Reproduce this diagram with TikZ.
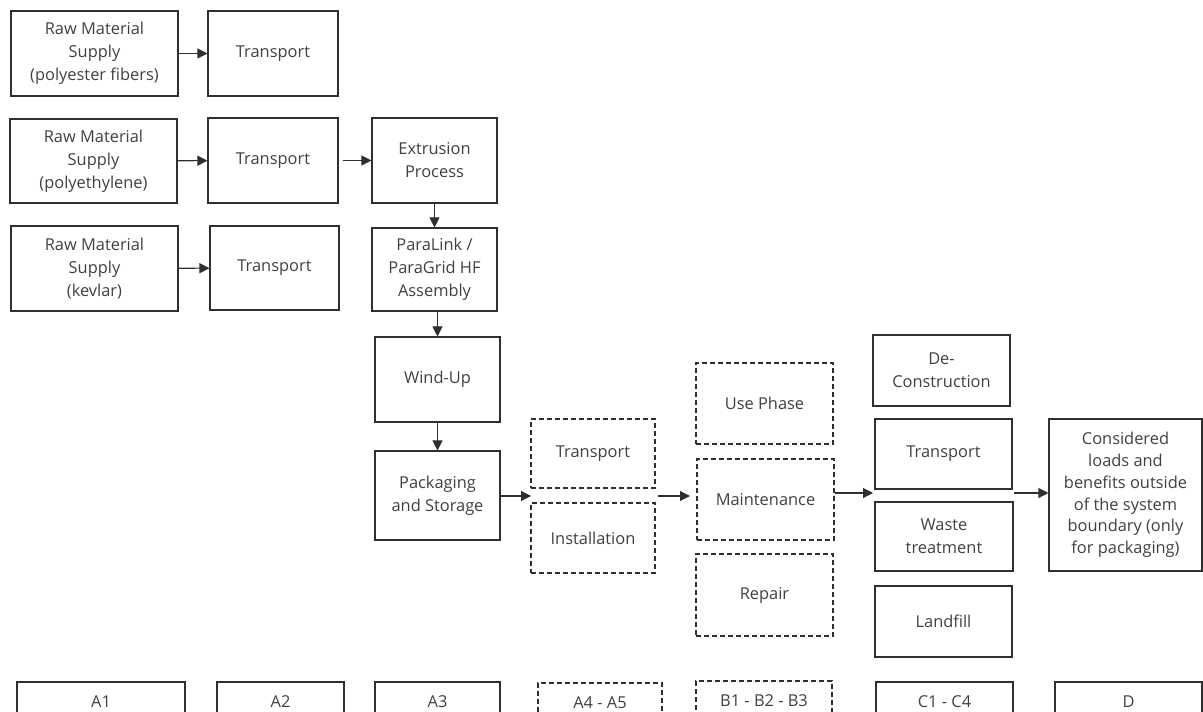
\documentclass[tikz,border=0pt]{standalone}
\usepackage{fontspec}
\setmainfont{Open Sans}
\usepackage{xcolor}
\usetikzlibrary{positioning,calc,arrows.meta}

\definecolor{boxline}{HTML}{2F2F2F}
\definecolor{boxtext}{HTML}{404040}
\newcommand{\pxu}{0.75pt}

\tikzset{
	main node/.style={draw=boxline, rectangle, align=center, inner sep=0pt,
		text=boxtext, font=\fontsize{12.3}{17.3}\selectfont},
	dash node/.style={main node, dash pattern=on 3.5pt off 2.5pt}
}

\begin{document}
\begin{tikzpicture}[->,>={Triangle[length=7.5pt,width=7.5pt]},x=0.75pt,y=-0.75pt,
			line width=0.8pt,draw=boxline]

			\useasboundingbox (0,0) rectangle (1203,712);

			% raw material supply and transport
			\node[main node,minimum width=167*\pxu,minimum height=85*\pxu] (rm1) at (94.5,53.5)  {Raw Material\\Supply\\(polyester fibers)};
			\node[main node,minimum width=130*\pxu,minimum height=85*\pxu] (tr1) at (273,53.5)   {Transport};
			\node[main node,minimum width=167*\pxu,minimum height=84*\pxu] (rm2) at (93.5,161)   {Raw Material\\Supply\\(polyethylene)};
			\node[main node,minimum width=130*\pxu,minimum height=85*\pxu] (tr2) at (273,160.5)  {Transport};
			\node[main node,minimum width=167*\pxu,minimum height=85*\pxu] (rm3) at (94.5,268.5) {Raw Material\\Supply\\(kevlar)};
			\node[main node,minimum width=129*\pxu,minimum height=84*\pxu] (tr3) at (274.5,268)  {Transport};

			% manufacturing
			\node[main node,minimum width=125*\pxu,minimum height=85*\pxu] (ext)  at (434.5,160.5) {Extrusion\\Process};
			\node[main node,minimum width=125*\pxu,minimum height=83*\pxu] (asm)  at (434.5,269.5) {ParaLink /\\ParaGrid HF\\Assembly};
			\node[main node,minimum width=125*\pxu,minimum height=85*\pxu] (wind) at (437.5,379.5) {Wind-Up};
			\node[main node,minimum width=125*\pxu,minimum height=89*\pxu] (pack) at (437.5,495.5) {Packaging\\and Storage};

			% construction
			\node[dash node,minimum width=124*\pxu,minimum height=69*\pxu] (trc)  at (593,453.5) {Transport};
			\node[dash node,minimum width=124*\pxu,minimum height=70*\pxu] (inst) at (593,538)   {Installation};

			% use
			\node[dash node,minimum width=137*\pxu,minimum height=81*\pxu] (use)   at (764.5,403.5) {Use Phase};
			\node[dash node,minimum width=137*\pxu,minimum height=81*\pxu] (maint) at (765.5,499.5) {Maintenance};
			\node[dash node,minimum width=137*\pxu,minimum height=82*\pxu] (rep)   at (764.5,595)   {Repair};

			% end of life
			\node[main node,minimum width=137*\pxu,minimum height=71*\pxu] (dec)   at (941.5,370.5) {De-\\Construction};
			\node[main node,minimum width=137*\pxu,minimum height=70*\pxu] (tre)   at (943.5,454)   {Transport};
			\node[main node,minimum width=138*\pxu,minimum height=69*\pxu] (waste) at (944,536.5)   {Waste\\treatment};
			\node[main node,minimum width=137*\pxu,minimum height=71*\pxu] (land)  at (943.5,621.5) {Landfill};

			\node[main node,minimum width=153*\pxu,minimum height=152*\pxu,font=\fontsize{12.3}{16.3}\selectfont] (ben) at (1125.5,495)
				{Considered\\loads and\\benefits outside\\of the system\\boundary (only\\for packaging)};

			% module labels
			\node[main node,minimum width=168*\pxu,minimum height=40*\pxu] (m1) at (101,702)    {A1};
			\node[main node,minimum width=127*\pxu,minimum height=40*\pxu] (m2) at (280.5,702)  {A2};
			\node[main node,minimum width=125*\pxu,minimum height=40*\pxu] (m3) at (437.5,702)  {A3};
			\node[dash node,minimum width=124*\pxu,minimum height=40*\pxu] (m4) at (600,703)    {A4 - A5};
			\node[dash node,minimum width=136*\pxu,minimum height=40*\pxu] (m5) at (764,701)    {B1 - B2 - B3};
			\node[main node,minimum width=137*\pxu,minimum height=40*\pxu] (m6) at (944.5,702)  {C1 - C4};
			\node[main node,minimum width=147*\pxu,minimum height=40*\pxu] (m7) at (1128.5,702) {D};

			\coordinate (ain)  at (531,496);
			\coordinate (aout) at (658,496);
			\coordinate (bin)  at (690,496);
			\coordinate (cin)  at (873,493);
			\coordinate (cout) at (1014,493);

			\draw (rm1) -- (tr1);
			\draw (rm2) -- (tr2);
			\draw (rm3) -- (tr3);
			\draw[shorten <=3pt] (tr2) -- (ext);
			\draw (ext) -- (asm);
			\draw (asm.south -| wind) -- (wind);
			\draw (wind) -- (pack);
			\draw (pack.east |- ain) -- (ain);
			\draw (aout) -- (bin);
			\draw (maint.east |- cin) -- (cin);
			\draw (cout) -- (ben.west |- cout);

		\end{tikzpicture}
\end{document}
